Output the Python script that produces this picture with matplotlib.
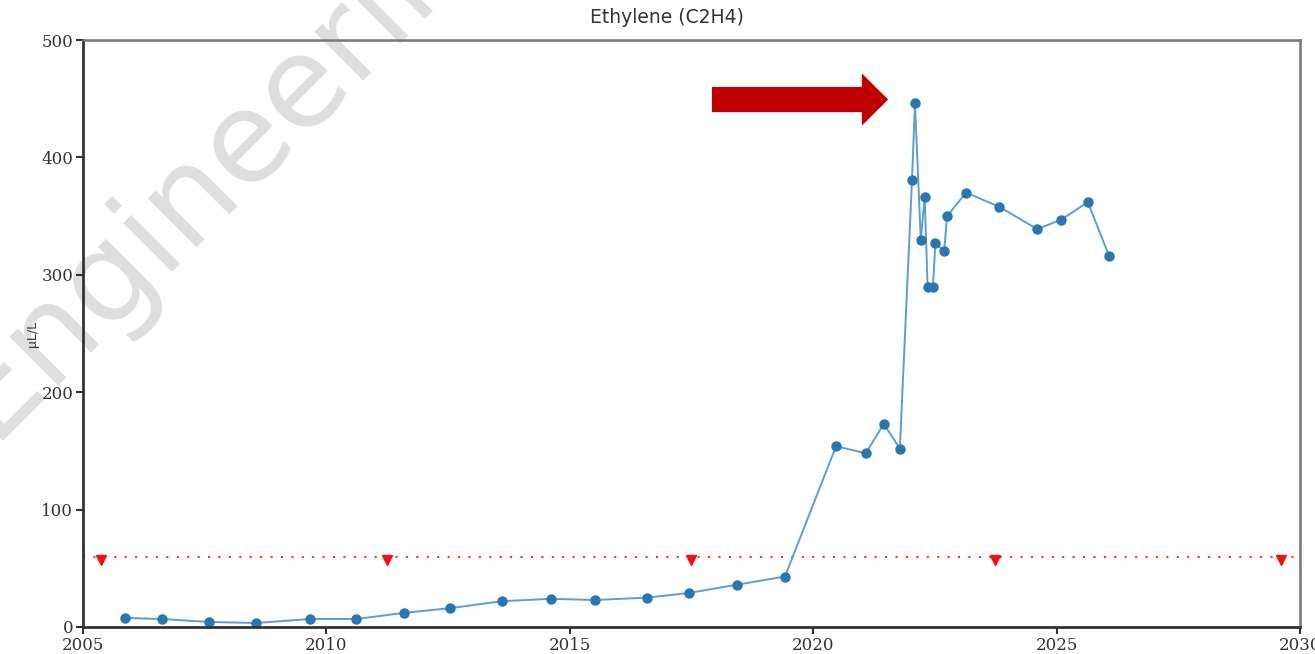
import matplotlib.pyplot as plt
from matplotlib.patches import FancyArrow

# Ethylene readings (decimal year, µL/L)
years = [2005.86, 2006.62, 2007.59, 2008.55, 2009.66, 2010.61, 2011.59, 2012.54,
         2013.61, 2014.61, 2015.52, 2016.59, 2017.45, 2018.43, 2019.42, 2020.47,
         2021.08, 2021.45, 2021.78, 2022.03, 2022.09, 2022.21, 2022.29, 2022.35,
         2022.46, 2022.51, 2022.69, 2022.75, 2023.14, 2023.82, 2024.60, 2025.10,
         2025.64, 2026.08]
c2h4 = [7.7, 6.8, 4.3, 3.4, 6.8, 6.8, 12, 16,
        22, 24, 23, 25, 29, 36, 43, 154,
        148, 173, 152, 381, 446, 330, 366, 290,
        290, 327, 320, 350, 370, 358, 339, 347,
        362, 316]

# limit line and its markers
limit_x = [2005, 2030]
limit_y = [60, 60]
marker_years = [2005.37, 2011.24, 2017.49, 2023.73, 2029.61]
marker_vals = [57, 57, 57, 57, 57]

fig = plt.figure(figsize=(13.15, 6.54), dpi=100)
ax = fig.add_axes([0.0631, 0.0413, 0.9255, 0.8975])

# watermark (behind the axes)
fig.text(-0.007, 0.326, "Engineering", fontsize=91, color="#dedede", rotation=45,
         rotation_mode="anchor", ha="left", va="baseline", zorder=-1,
         family="DejaVu Sans")

ax.patch.set_alpha(0)
ax.plot(limit_x, limit_y, color="#ff3030", linestyle=(0, (1, 4)), linewidth=1.5)
ax.plot(marker_years, marker_vals, linestyle="none", marker="v", color="#ee1111",
        markersize=7)
ax.plot(years, c2h4, color="#4a94cc", linewidth=1.4, alpha=0.9)
ax.plot(years, c2h4, linestyle="none", marker="o", color="#2a76b0", markersize=6.5)

ax.add_patch(FancyArrow(2017.92, 449.3, 3.62, 0, width=21.5, head_width=44.5,
                        head_length=0.54, length_includes_head=True,
                        color="#c00000", linewidth=0))

ax.set_xlim(2005, 2030)
ax.set_ylim(0, 500)
ax.set_xticks(range(2005, 2031, 5))
ax.set_yticks(range(0, 501, 100))
for lab in ax.get_xticklabels() + ax.get_yticklabels():
    lab.set_family("DejaVu Serif")
    lab.set_fontsize(12)
    lab.set_color("#333333")
ax.tick_params(direction="out", length=5, width=1.5, color="#333333", pad=2)

ax.set_title("Ethylene (C2H4)", fontsize=13.5, color="#333333", pad=12, x=0.48)
ax.set_ylabel("µL/L", fontsize=9, color="#333333", labelpad=2)

for side in ["left", "bottom"]:
    ax.spines[side].set_linewidth(2)
    ax.spines[side].set_color("#333333")
for side in ["top", "right"]:
    ax.spines[side].set_linewidth(1.8)
    ax.spines[side].set_color("#777777")

fig.savefig("out.png", dpi=100)
